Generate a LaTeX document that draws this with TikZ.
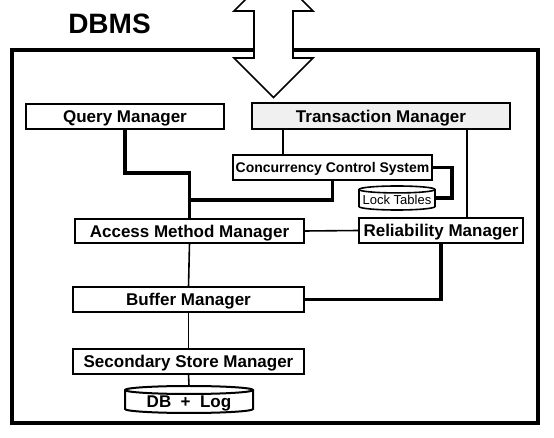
\documentclass[tikz,border=0pt]{standalone}
\usepackage{fontspec}
\setmainfont{Liberation Sans}
\definecolor{tmgray}{RGB}{240,240,240}
\newcommand\placebox[7]{\node[#1, minimum width={(#5-#3)*0.75pt}, minimum height={(#6-#4)*0.75pt}] (#2) at ({(#3+#5)/2},{(#4+#6)/2}) {#7};}
\newcommand\drawcyl[4]{%
\draw[line width=#4] ([yshift=-#3]#1.north west) -- ([yshift=#3]#1.south west)
  arc[start angle=180,end angle=360,x radius=#2,y radius=#3]
  -- ([yshift=-#3]#1.north east)
  arc[start angle=0,end angle=180,x radius=#2,y radius=#3] -- cycle;
\draw[line width=#4] ([yshift=-#3]#1.north west) arc[start angle=180,end angle=360,x radius=#2,y radius=#3];}
\begin{document}
\begin{tikzpicture}[x=0.75pt,y=-0.75pt,
  box/.style={draw, line width=1.5pt, fill=white, inner sep=0pt, outer sep=0pt,
    font=\fontsize{12.75}{15}\selectfont\bfseries, text height=9.1pt, text depth=0pt},
  cyl/.style={inner sep=0pt, outer sep=0pt, text depth=0pt},
  thinconn/.style={line width=1.2pt},
  thickconn/.style={line width=2.6pt}]
\useasboundingbox (0,0) rectangle (554,438);
\clip (0,0) rectangle (554,438);
% frame
\node[draw, line width=3pt, inner sep=0pt, outer sep=0pt, minimum width={526*0.75pt}, minimum height={373*0.75pt}] (frame) at (275,236.5) {};
% double arrow
\draw[line width=1.3pt, fill=white] (273.5,-28.5) -- (313,11) -- (293,11) -- (293,58) -- (313,58) -- (273.5,97.5) -- (234,58) -- (254,58) -- (254,11) -- (234,11) -- cycle;
% title
\node[font=\fontsize{21}{24}\selectfont\bfseries, text height=15pt, text depth=0pt, inner sep=0pt] (title) at (109.5,23.5) {DBMS};
% boxes
\placebox{box}{qm}{26}{104}{224}{129}{Query Manager}
\placebox{box,fill=tmgray}{tm}{252}{103}{510}{129}{Transaction Manager}
\placebox{box,font=\fontsize{10.5}{12}\selectfont\bfseries,text height=7.5pt}{ccs}{233}{155}{432}{180}{Concurrency Control System}
\placebox{box}{amm}{75}{219}{304}{243}{Access Method Manager}
\placebox{box}{rm}{359}{218}{523}{243}{Reliability Manager}
\placebox{box}{buf}{73}{287}{304}{312}{Buffer Manager}
\placebox{box}{ssm}{73}{349}{304}{374}{Secondary Store Manager}
\placebox{cyl,font=\fontsize{9.75}{11}\selectfont,text height=10.5pt}{lt}{359}{186}{435}{210}{Lock Tables}
\placebox{cyl,font=\fontsize{12.75}{15}\selectfont\bfseries,text height=12.3pt}{db}{125}{386}{253}{413}{DB\ \ +\ \ Log}
\drawcyl{lt}{28.5pt}{2.6pt}{1.2pt}
\drawcyl{db}{48pt}{3pt}{1.5pt}
% helper coordinates
\path (283,0) coordinate (xa) (467,0) coordinate (xb) (452,0) coordinate (xc)
      (189.5,173) coordinate (j1) (189.5,200) coordinate (j2);
% connectors
\draw[thickconn] (qm.south) |- (j1) -- (amm.north);
\draw[thickconn] (ccs.south) |- (j2);
\draw[thinconn] (xa |- tm.south) -- (xa |- ccs.north);
\draw[thinconn] (xb |- tm.south) -- (xb |- rm.north);
\draw[thickconn] (ccs.east) -| (xc |- lt.east) -- (lt.east);
\draw[thinconn] (amm.east) -- (rm.west);
\draw[thinconn] (amm.south) -- (buf.north);
\draw[thickconn] (rm.south) |- (buf.east);
\draw[thinconn] (buf.south) -- (ssm.north);
\draw[thinconn] (ssm.south) -- (db.north);
\end{tikzpicture}
\end{document}
